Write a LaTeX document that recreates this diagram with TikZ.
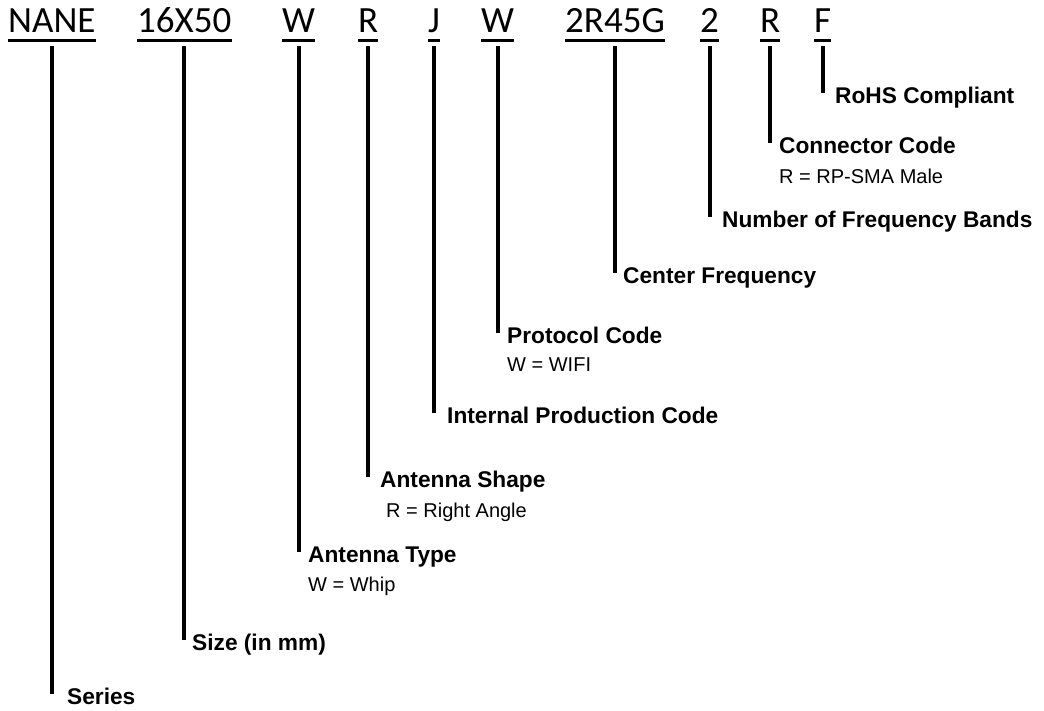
\documentclass[tikz,border=0pt]{standalone}
\usepackage{fontspec}
\setmainfont{Liberation Sans}
\newfontfamily\codefont{Carlito}
\usetikzlibrary{calc}

\tikzset{
    code/.style={inner sep=0pt, anchor=base west, font=\codefont\fontsize{37}{40}\selectfont},
    title/.style={inner sep=0pt, anchor=base west, font=\bfseries\fontsize{22.7}{26}\selectfont},
    value/.style={inner sep=0pt, anchor=base west, font=\fontsize{20}{24}\selectfont},
    uline/.style={line width=3pt},
    bar/.style={line width=4pt}
}

\begin{document}
\begin{tikzpicture}[x=1pt, y=-1pt]
    \useasboundingbox (0,0) rectangle (1044,710);

    % Part number
    \node[code] (nane)  at (8,32)   {NANE};
    \node[code] (size)  at (137,32) {16X50};
    \node[code] (type)  at (282,32) {W};
    \node[code] (shape) at (358,32) {R};
    \node[code] (prod)  at (428,32) {J};
    \node[code] (proto) at (481,32) {W};
    \node[code] (freq)  at (565,32) {2R45G};
    \node[code] (bands) at (700,32) {2};
    \node[code] (conn)  at (760,32) {R};
    \node[code] (rohs)  at (814,32) {F};

    % Underlines
    \foreach \c in {nane,size,type,shape,prod,proto,freq,bands,conn,rohs}
        \draw[uline] (\c.west |- 0,40) -- (\c.east |- 0,40);

    % Descriptions
    \node[title] (nanelbl)  at (67,704)  {Series};
    \node[title] (sizelbl)  at (192,650) {Size (in mm)};
    \node[title] (typelbl)  at (308,562) {Antenna Type};
    \node[value] (typeval)  at (308,591) {W = Whip};
    \node[title] (shapelbl) at (380,487) {Antenna Shape};
    \node[value] (shapeval) at (386,517) {R = Right Angle};
    \node[title] (prodlbl)  at (447,423) {Internal Production Code};
    \node[title] (protolbl) at (507,343) {Protocol Code};
    \node[value] (protoval) at (507,371) {W = WIFI};
    \node[title] (freqlbl)  at (623,283) {Center Frequency};
    \node[title] (bandslbl) at (722,227) {Number of Frequency Bands};
    \node[title] (connlbl)  at (779,153) {Connector Code};
    \node[value] (connval)  at (779,183) {R = RP-SMA Male};
    \node[title] (rohslbl)  at (835,103) {RoHS Compliant};

    % Bars from code to description
    \foreach \c in {nane,size,type,shape,prod,proto,freq,bands,conn,rohs}
        \draw[bar] (\c.south |- 0,46) -- ($(\c.south |- \c lbl.base)+(0,-10)$);
\end{tikzpicture}
\end{document}
